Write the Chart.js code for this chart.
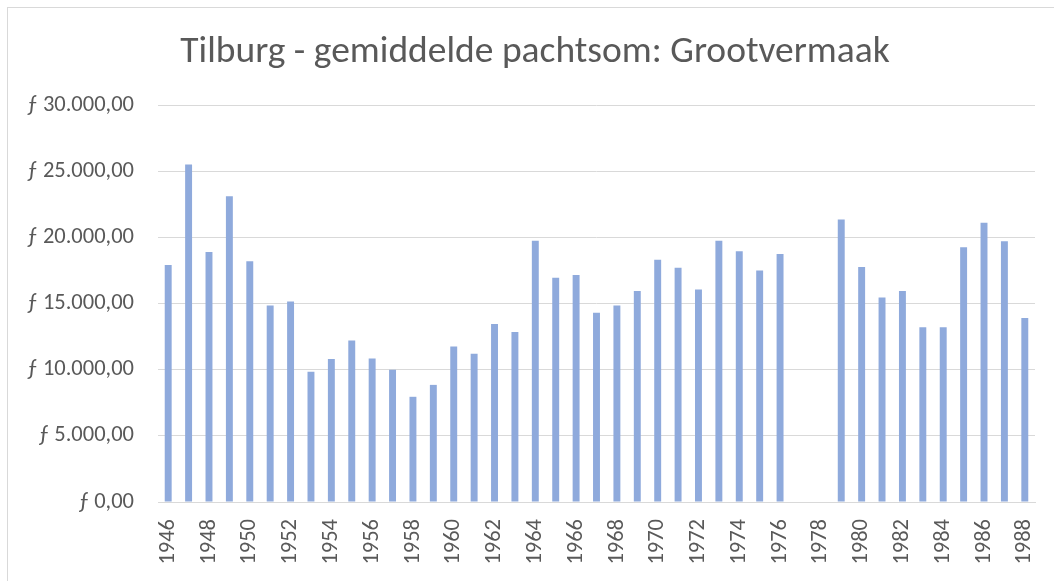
<!DOCTYPE html>
<html>
<head>
<meta charset="utf-8">
<script src="https://cdn.jsdelivr.net/npm/chart.js@4"></script>
<style>
  body { margin: 0; background: #fff; overflow: hidden; }
  #wrap {
    position: absolute; left: 7px; top: 7px;
    border-left: 1px solid #d9d9d9; border-top: 1px solid #d9d9d9;
  }
  canvas { display: block; }
</style>
</head>
<body>
<div id="wrap"><canvas id="chart" width="1054" height="575"></canvas></div>
<script>
const jaren = [];
for (let j = 1946; j <= 1988; j++) jaren.push(String(j));

// gemiddelde pachtsom per jaar (1977 en 1978 ontbreken)
const pachtsom = [
  17900, 25500, 18900, 23100, 18200, 14850, 15150, 9850, 10800, 12200,
  10850, 10000, 7950, 8850, 11750, 11200, 13450, 12850, 19750, 16950,
  17150, 14300, 14850, 15950, 18300, 17700, 16050, 19750, 18950, 17500,
  18750, null, null, 21350, 17750, 15450, 15950, 13200, 13200, 19250,
  21100, 19700, 13900
];

const yMin = 0;
const yMax = 30000;
const yStap = 5000;

const fontNaam = 'Carlito, Lato, "Open Sans", sans-serif';
const grijs = '#595959';

function gulden(v) {
  const heel = Math.round(v).toString().replace(/\B(?=(\d{3})+(?!\d))/g, '.');
  return 'ƒ ' + heel + ',00';
}

new Chart(document.getElementById('chart').getContext('2d'), {
  type: 'bar',
  data: {
    labels: jaren,
    datasets: [{
      data: pachtsom,
      backgroundColor: '#8faadc',
      borderWidth: 0,
      categoryPercentage: 1,
      barPercentage: 0.34
    }]
  },
  options: {
    responsive: false,
    animation: false,
    layout: { padding: 0 },
    plugins: {
      legend: { display: false },
      tooltip: { enabled: false },
      title: {
        display: true,
        text: 'Tilburg - gemiddelde pachtsom: Grootvermaak',
        color: grijs,
        font: { family: fontNaam, size: 37.5, weight: 'normal' },
        padding: { top: 22, bottom: 30 }
      }
    },
    scales: {
      x: {
        grid: { display: false, drawTicks: false },
        border: { display: true, color: '#d9d9d9', width: 1 },
        ticks: {
          autoSkip: false,
          minRotation: 90,
          maxRotation: 90,
          padding: 17,
          color: grijs,
          font: { family: fontNaam, size: 22.5 },
          callback: function(val, i) {
            return i % 2 === 0 ? jaren[i] : '';
          }
        },
        afterFit: function(scale) {
          scale.height = 81;
          scale.paddingLeft = 0;
          scale.paddingRight = 0;
        }
      },
      y: {
        min: yMin,
        max: yMax,
        grid: { color: '#d9d9d9', lineWidth: 1, drawTicks: false },
        border: { display: false },
        ticks: {
          stepSize: yStap,
          padding: 24,
          color: grijs,
          font: { family: fontNaam, size: 22.5 },
          callback: function(v) { return gulden(v); }
        },
        afterFit: function(scale) { scale.width = 150; }
      },
      rechts: {
        position: 'right',
        grid: { display: false },
        border: { display: false },
        ticks: { display: false },
        afterFit: function(scale) { scale.width = 27; }
      }
    }
  }
});
</script>
</body>
</html>
